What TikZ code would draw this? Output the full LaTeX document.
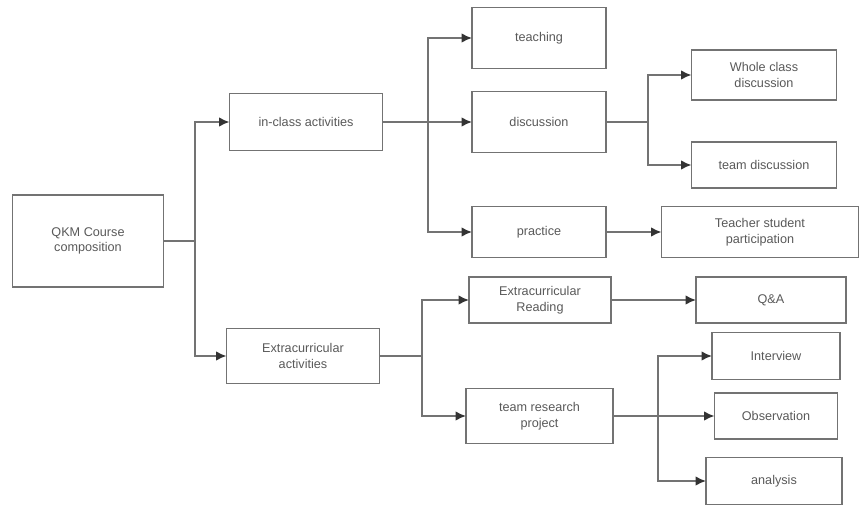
\documentclass[tikz,border=0pt]{standalone}
\usepackage{fontspec}
\setsansfont{Liberation Sans}
\usetikzlibrary{positioning}
\usetikzlibrary{arrows.meta}

\begin{document}
\begin{tikzpicture}[
    box/.style={draw=black!55, line width=1.3pt, rectangle, align=center, inner sep=0pt, outer sep=0pt,
        text=black!65, font=\sffamily\fontsize{9}{11}\selectfont},
    link/.style={draw=black!55, line width=1.3pt},
    arr/.style={link, -{Latex[length=2.6mm, width=2.4mm, black!80]}}
]
    \useasboundingbox (0,0) rectangle (21.5,-12.7);

    % root
    \node[box, minimum width=3.775cm, minimum height=2.3cm] (root) at (2.2,-6.025) {QKM Course\\composition};
    % second level
    \node[box, minimum width=3.825cm, minimum height=1.425cm] (inclass) at (7.65,-3.05) {in-class activities};
    \node[box, minimum width=3.825cm, minimum height=1.375cm] (extact) at (7.575,-8.9) {Extracurricular\\activities};
    % in-class branch
    \node[box, minimum width=3.35cm, minimum height=1.525cm] (teaching) at (13.475,-0.95) {teaching};
    \node[box, minimum width=3.35cm, minimum height=1.525cm] (discussion) at (13.475,-3.05) {discussion};
    \node[box, minimum width=3.35cm, minimum height=1.275cm] (practice) at (13.475,-5.8) {practice};
    \node[box, minimum width=3.625cm, minimum height=1.25cm] (whole) at (19.1,-1.875) {Whole class\\discussion};
    \node[box, minimum width=3.625cm, minimum height=1.15cm] (teamdisc) at (19.1,-4.125) {team discussion};
    \node[box, minimum width=4.925cm, minimum height=1.275cm] (teacher) at (19.0,-5.8) {Teacher student\\participation};
    % extracurricular branch
    \node[box, minimum width=3.55cm, minimum height=1.15cm] (extread) at (13.5,-7.5) {Extracurricular\\Reading};
    \node[box, minimum width=3.675cm, minimum height=1.375cm] (teamres) at (13.4875,-10.4) {team research\\project};
    \node[box, minimum width=3.75cm, minimum height=1.15cm] (qa) at (19.275,-7.5) {Q\&A};
    \node[box, minimum width=3.2cm, minimum height=1.175cm] (interview) at (19.4,-8.9) {Interview};
    \node[box, minimum width=3.075cm, minimum height=1.15cm] (observation) at (19.4,-10.4) {Observation};
    \node[box, minimum width=3.4cm, minimum height=1.175cm] (analysis) at (19.35,-12.025) {analysis};

    % junctions
    \coordinate (j1) at (4.875,-6.025);
    \coordinate (j2) at (10.7,-3.05);
    \coordinate (j3) at (16.2,-3.05);
    \coordinate (j4) at (10.55,-8.9);
    \coordinate (j5) at (16.45,-10.4);

    \draw[link] (root) -- (j1);
    \draw[arr] (j1) |- (inclass);
    \draw[arr] (j1) |- (extact);

    \draw[link] (inclass) -- (j2);
    \draw[arr] (j2) |- (teaching);
    \draw[arr] (j2) -- (discussion);
    \draw[arr] (j2) |- (practice);

    \draw[link] (discussion) -- (j3);
    \draw[arr] (j3) |- (whole);
    \draw[arr] (j3) |- (teamdisc);
    \draw[arr] (practice) -- (teacher);

    \draw[link] (extact) -- (j4);
    \draw[arr] (j4) |- (extread);
    \draw[arr] (j4) |- (teamres);
    \draw[arr] (extread) -- (qa);

    \draw[link] (teamres) -- (j5);
    \draw[arr] (j5) |- (interview);
    \draw[arr] (j5) -- (observation);
    \draw[arr] (j5) |- (analysis);

\end{tikzpicture}
\end{document}
